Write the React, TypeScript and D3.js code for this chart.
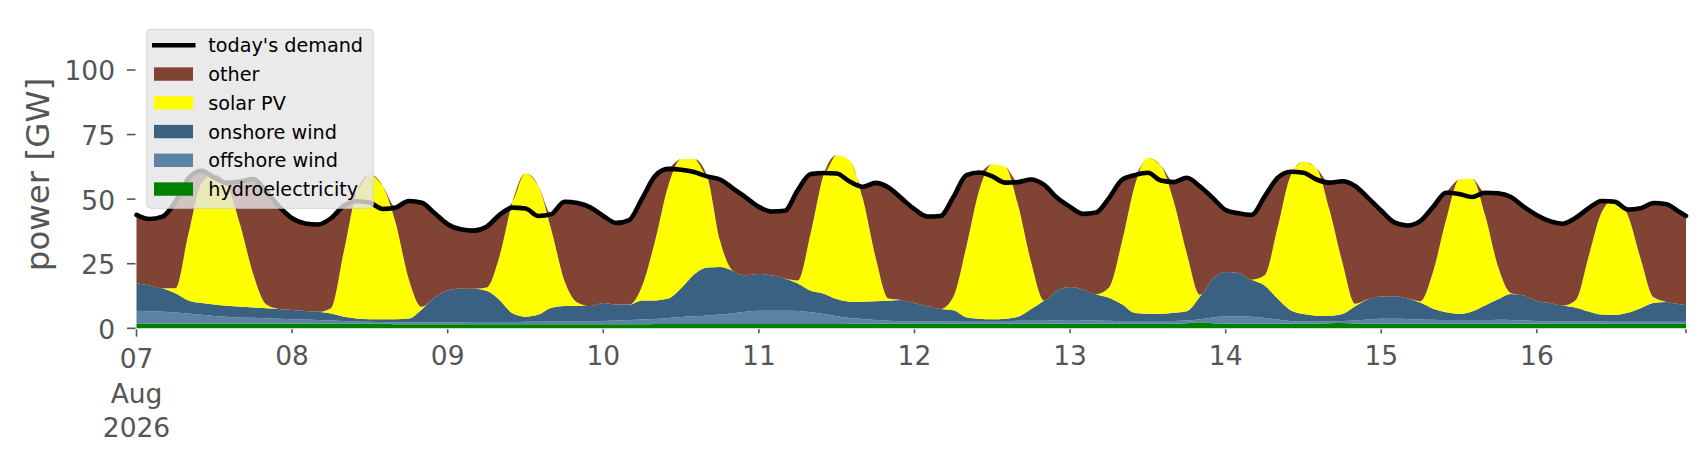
import React from 'react';
import * as d3 from 'd3';

// ---- data (GW), 2-hourly from 07 Aug 2026 00:00, last point 16 Aug 23:00 ----
const START = new Date(2026, 7, 7, 0, 0, 0);
const HOURS = [...d3.range(0, 240, 2), 239];

const demand = [
  43.9, 42.3, 43.2, 49.0, 58.0, 61.0, 58.3, 56.3, 56.8, 57.8, 53.0, 47.1,
  42.6, 40.6, 40.2, 42.6, 47.5, 49.2, 48.6, 46.2, 46.8, 49.3, 48.6, 44.5,
  40.3, 38.3, 37.8, 39.3, 43.9, 46.7, 46.4, 43.5, 44.2, 49.0, 48.5, 46.8,
  43.5, 40.8, 41.9, 50.3, 59.0, 61.7, 61.4, 60.5, 58.8, 57.6, 54.2, 50.6,
  47.0, 45.2, 45.5, 53.5, 59.7, 60.1, 59.9, 56.8, 54.8, 56.3, 54.5, 50.3,
  46.1, 43.3, 43.5, 50.8, 59.3, 60.3, 58.8, 56.4, 56.6, 57.6, 55.5, 50.5,
  47.0, 44.3, 44.8, 50.4, 57.5, 59.3, 60.2, 57.2, 56.6, 58.3, 55.0, 50.5,
  45.8, 44.5, 43.9, 51.0, 58.2, 60.6, 60.2, 57.6, 56.4, 56.9, 55.0, 50.4,
  45.5, 41.0, 39.8, 41.5, 47.0, 52.5, 52.0, 50.8, 52.5, 52.3, 50.8, 47.0,
  43.8, 41.5, 40.5, 42.8, 46.5, 49.3, 49.0, 46.0, 46.5, 48.5, 48.0, 45.0,
  43.5,
];

const hydro = [
  1.9, 1.9, 1.9, 1.9, 1.9, 1.9, 1.9, 1.9, 1.9, 1.9, 1.9, 1.9,
  1.9, 1.9, 1.9, 1.9, 1.9, 1.9, 1.9, 1.9, 1.6, 1.6, 1.6, 1.6,
  1.6, 1.6, 1.6, 1.6, 1.6, 1.6, 1.6, 1.6, 1.6, 1.6, 1.6, 1.6,
  1.6, 1.6, 1.6, 1.6, 1.7, 1.7, 1.7, 1.7, 1.7, 1.7, 1.7, 1.7,
  1.7, 1.7, 1.7, 1.7, 1.7, 1.7, 1.7, 1.8, 1.8, 1.8, 1.8, 1.8,
  1.8, 1.8, 1.8, 1.8, 1.8, 1.8, 1.8, 1.8, 1.8, 1.8, 1.8, 1.8,
  1.8, 1.8, 1.8, 1.8, 1.8, 1.8, 1.8, 1.8, 1.8, 2.0, 2.3, 2.0,
  1.8, 1.8, 1.8, 1.8, 1.8, 1.8, 1.8, 1.8, 2.0, 2.1, 1.9, 1.8,
  1.8, 1.8, 1.8, 1.8, 1.8, 1.8, 1.8, 1.8, 1.8, 1.8, 1.8, 1.8,
  1.8, 1.8, 1.8, 1.8, 1.8, 1.8, 1.8, 1.8, 1.8, 1.8, 1.8, 1.8,
  1.8,
];

const offshoreWind = [
  4.9, 4.7, 4.5, 4.2, 3.8, 3.3, 2.9, 2.6, 2.3, 2.2, 2.0, 1.8,
  1.6, 1.5, 1.3, 1.1, 0.9, 0.7, 0.6, 0.5, 0.7, 0.6, 0.6, 0.7,
  0.7, 0.7, 0.8, 0.8, 0.8, 0.8, 0.9, 0.9, 1.0, 1.0, 1.1, 1.1,
  1.2, 1.4, 1.6, 1.8, 1.9, 2.3, 2.7, 3.0, 3.3, 3.6, 4.1, 4.7,
  5.1, 5.1, 5.1, 5.0, 4.5, 3.8, 3.0, 2.2, 1.8, 1.4, 1.1, 0.9,
  0.8, 0.8, 0.8, 0.9, 1.0, 1.0, 1.0, 1.0, 1.1, 1.1, 1.1, 1.3,
  1.4, 1.3, 1.2, 1.1, 1.0, 1.0, 1.0, 1.0, 1.0, 1.0, 1.2, 2.2,
  2.9, 2.9, 2.7, 2.2, 1.6, 1.0, 0.8, 0.8, 0.7, 0.7, 1.1, 1.6,
  1.9, 1.9, 1.8, 1.6, 1.5, 1.4, 1.4, 1.4, 1.4, 1.5, 1.4, 1.2,
  1.0, 0.9, 0.8, 0.8, 0.8, 0.9, 1.0, 1.0, 1.0, 1.0, 1.0, 1.0,
  1.0,
];

const onshoreWind = [
  10.6, 10.0, 9.1, 7.5, 5.1, 4.6, 4.4, 4.2, 4.1, 4.0, 3.9, 3.8,
  3.6, 3.3, 3.2, 2.7, 1.7, 1.2, 1.0, 1.1, 1.2, 1.6, 5.1, 9.7,
  12.3, 13.1, 12.9, 12.1, 8.6, 3.4, 2.0, 2.8, 5.4, 6.0, 5.9, 5.9,
  7.0, 6.2, 6.0, 7.4, 7.2, 7.5, 11.1, 16.1, 18.5, 18.4, 16.5, 14.1,
  14.2, 13.7, 12.5, 10.6, 8.3, 7.9, 6.6, 6.3, 6.7, 7.3, 7.8, 8.3,
  7.2, 5.9, 4.9, 4.3, 1.5, 0.9, 0.7, 0.9, 1.6, 4.6, 7.9, 11.4,
  12.8, 11.9, 10.2, 8.9, 6.5, 3.1, 2.8, 2.8, 3.2, 3.6, 8.7, 15.0,
  17.1, 16.7, 14.3, 12.6, 8.1, 4.2, 2.9, 2.3, 2.1, 2.7, 5.5, 7.9,
  8.6, 8.7, 7.9, 6.6, 4.3, 3.0, 2.4, 3.3, 5.6, 7.9, 10.1, 9.7,
  7.8, 7.1, 6.2, 5.4, 3.9, 2.6, 2.4, 3.2, 5.0, 7.0, 7.4, 6.5,
  6.2,
];

const solarPV = [
  0, 0, 0, 1.9, 25.7, 46.2, 50.3, 46.3, 31.7, 12.9, 1.5, 0,
  0, 0, 0, 2.1, 25.5, 49.2, 55.9, 51.5, 37.1, 15.2, 1.0, 0,
  0, 0, 0, 1.3, 17.0, 43.2, 55.5, 49.7, 30.0, 9.9, 1.4, 0,
  0, 0, 0, 5.7, 23.2, 43.5, 49.9, 44.7, 35.5, 10.3, 0, 0,
  0, 0, 0, 1.2, 22.5, 46.1, 55.7, 54.7, 40.2, 17.0, 0.8, 0,
  0, 0, 0, 5.2, 27.3, 49.9, 60.0, 58.8, 43.0, 18.0, 0, 0,
  0, 0, 0, 4.0, 24.2, 49.6, 60.4, 57.4, 43.0, 22.4, 0.8, 0,
  0, 0, 0, 3.9, 27.5, 52.0, 59.0, 57.1, 41.2, 20.0, 1.0, 0,
  0, 0, 0, 0.5, 14.4, 35.8, 51.9, 51.5, 35.2, 12.8, 0.3, 0,
  0, 0, 0, 3.0, 21.5, 39.7, 44.8, 38.0, 19.2, 2.2, 0, 0,
  0,
];

const Y_TICKS = [0, 25, 50, 75, 100];
const LEGEND_LABELS = ["today's demand", 'other', 'solar PV', 'onshore wind', 'offshore wind', 'hydroelectricity'];

const COLORS: Record<string, string> = {
  other: '#814334',
  solar: '#ffff00',
  onshore: '#3b6182',
  offshore: '#5c83a6',
  hydro: '#008000',
};

const FONT = 'DejaVu Sans, sans-serif';
const TICK_COLOR = '#555555';

export default function App() {
  const W = 1706;
  const H = 460;
  const END = d3.timeHour.offset(START, 239);
  const times = HOURS.map((h) => d3.timeHour.offset(START, h));
  const x = d3.scaleTime().domain([START, END]).range([136.5, 1686]);
  const y = d3.scaleLinear().domain([0, 119.5]).range([328.3, 19.6]);

  // "other" is whatever covers the remaining demand
  const other = demand.map((d, i) =>
    Math.max(0, d - hydro[i] - offshoreWind[i] - onshoreWind[i] - solarPV[i])
  );

  const rows = times.map((t, i) => ({
    t,
    hydro: hydro[i],
    offshore: offshoreWind[i],
    onshore: onshoreWind[i],
    solar: solarPV[i],
    other: other[i],
  }));
  const keys = ['hydro', 'offshore', 'onshore', 'solar', 'other'];
  const series = d3.stack<any>().keys(keys)(rows);

  const area = d3
    .area<any>()
    .x((d) => x(d.data.t))
    .y0((d) => y(d[0]))
    .y1((d) => y(d[1]))
    .curve(d3.curveMonotoneX);

  const line = d3
    .line<number>()
    .x((_, i) => x(times[i]))
    .y((d) => y(d))
    .curve(d3.curveMonotoneX);

  const days = d3.timeDay.range(START, d3.timeHour.offset(START, 240));
  const fmtDay = d3.timeFormat('%d');
  const y0 = y(0);

  const legendX = 146.7;
  const legendY = 29.3;
  const rowY = (k: number) => 45.3 + 28.75 * k;
  const legendPatches = [
    { label: LEGEND_LABELS[1], color: COLORS.other },
    { label: LEGEND_LABELS[2], color: COLORS.solar },
    { label: LEGEND_LABELS[3], color: COLORS.onshore },
    { label: LEGEND_LABELS[4], color: COLORS.offshore },
    { label: LEGEND_LABELS[5], color: COLORS.hydro },
  ];

  return (
    <svg
      width={W}
      height={H}
      viewBox={`0 0 ${W} ${H}`}
      style={{ position: 'absolute', left: 0, top: 0, background: '#ffffff' }}
      fontFamily={FONT}
    >
      <rect x={0} y={0} width={W} height={H} fill="#ffffff" />
      {/* stacked areas */}
      <g>
        {series.map((s) => (
          <path key={s.key} d={area(s as any) || ''} fill={COLORS[s.key]} />
        ))}
      </g>
      {/* demand line */}
      <path
        d={line(demand) || ''}
        fill="none"
        stroke="#000000"
        strokeWidth={4.6}
        strokeLinejoin="round"
        strokeLinecap="round"
      />

      {/* y axis */}
      <g>
        {Y_TICKS.map((v) => (
          <g key={v}>
            <line x1={127} x2={135.5} y1={y(v)} y2={y(v)} stroke={TICK_COLOR} strokeWidth={1.6} />
            <text
              x={115}
              y={y(v) + 10.5}
              textAnchor="end"
              fontSize={26.5}
              fill={TICK_COLOR}
            >
              {v}
            </text>
          </g>
        ))}
        <text
          transform={`translate(49,174.5) rotate(-90)`}
          textAnchor="middle"
          fontSize={32.5}
          fill={TICK_COLOR}
        >
          power [GW]
        </text>
      </g>

      {/* x axis */}
      <g>
        {days.map((d, i) => {
          const xx = x(d);
          const major = i === 0;
          return (
            <g key={i}>
              <line
                x1={xx}
                x2={xx}
                y1={y0 + 1}
                y2={y0 + (major ? 8.4 : 5)}
                stroke={TICK_COLOR}
                strokeWidth={1.6}
              />
              <text
                x={xx}
                y={major ? 368 : 364.5}
                textAnchor="middle"
                fontSize={26.5}
                fill={TICK_COLOR}
              >
                {fmtDay(d)}
              </text>
              {major && (
                <>
                  <text x={xx} y={402.5} textAnchor="middle" fontSize={26.5} fill={TICK_COLOR}>
                    {d3.timeFormat('%b')(d)}
                  </text>
                  <text x={xx} y={437} textAnchor="middle" fontSize={26.5} fill={TICK_COLOR}>
                    {d3.timeFormat('%Y')(d)}
                  </text>
                </>
              )}
            </g>
          );
        })}
        <line
          x1={x(END)}
          x2={x(END)}
          y1={y0 + 1}
          y2={y0 + 5}
          stroke={TICK_COLOR}
          strokeWidth={1.6}
        />
      </g>

      {/* legend */}
      <g>
        <rect
          x={legendX}
          y={legendY}
          width={226.6}
          height={179}
          rx={4}
          ry={4}
          fill="#e5e5e5"
          fillOpacity={0.8}
          stroke="#cccccc"
          strokeOpacity={0.8}
          strokeWidth={1}
        />
        <line x1={152} x2={195.5} y1={rowY(0)} y2={rowY(0)} stroke="#000" strokeWidth={4.6} />
        <text x={208.3} y={rowY(0) + 7} fontSize={19.2} fill="#000">
          {LEGEND_LABELS[0]}
        </text>
        {legendPatches.map((p, k) => (
          <g key={p.label}>
            <rect x={154} y={rowY(k + 1) - 6.7} width={39} height={13.4} fill={p.color} />
            <text x={208.3} y={rowY(k + 1) + 7} fontSize={19.2} fill="#000">
              {p.label}
            </text>
          </g>
        ))}
      </g>
    </svg>
  );
}
